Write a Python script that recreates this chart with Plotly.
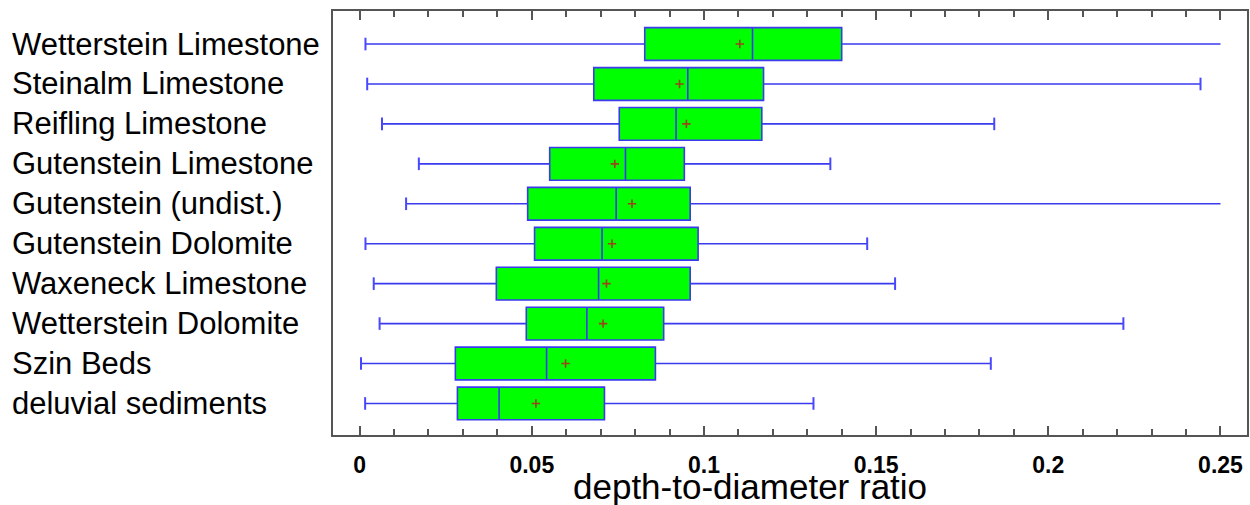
import plotly.graph_objects as go

categories = ["Wetterstein Limestone", "Steinalm Limestone", "Reifling Limestone",
              "Gutenstein Limestone", "Gutenstein (undist.)", "Gutenstein Dolomite",
              "Waxeneck Limestone", "Wetterstein Dolomite", "Szin Beds", "deluvial sediments"]
lower_whisker = [0.0017, 0.0022, 0.0065, 0.0172, 0.0135, 0.0017, 0.0041, 0.0058, 0.0004, 0.0016]
q1 = [0.0828, 0.0680, 0.0754, 0.0552, 0.0488, 0.0508, 0.0397, 0.0484, 0.0278, 0.0284]
median = [0.1141, 0.0953, 0.0919, 0.0772, 0.0745, 0.0704, 0.0694, 0.0660, 0.0543, 0.0405]
q3 = [0.1400, 0.1173, 0.1168, 0.0943, 0.0960, 0.0983, 0.0960, 0.0883, 0.0859, 0.0711]
upper_whisker = [0.2500, 0.2442, 0.1843, 0.1367, 0.2500, 0.1474, 0.1555, 0.2218, 0.1833, 0.1318]
mean = [0.1104, 0.0929, 0.0949, 0.0741, 0.0791, 0.0733, 0.0717, 0.0707, 0.0598, 0.0512]
x_ticks = [0, 0.05, 0.1, 0.15, 0.2, 0.25]
x_tick_labels = ["0", "0.05", "0.1", "0.15", "0.2", "0.25"]
x_title = "depth-to-diameter ratio"
x_max = 0.25

BLUE = "#3a3aee"
fig = go.Figure()
fig.add_trace(go.Box(
    y=categories, q1=q1, median=median, q3=q3,
    lowerfence=lower_whisker, upperfence=upper_whisker,
    orientation="h", boxpoints=False, width=0.82, whiskerwidth=0,
    fillcolor="#00ff00", line=dict(color=BLUE, width=1.6),
    showlegend=False, hoverinfo="skip"))

# whisker end caps (not drawn where the whisker runs to the axis limit)
cap_x, cap_y = [], []
for c, lo, hi in zip(categories, lower_whisker, upper_whisker):
    cap_x.append(lo); cap_y.append(c)
    if hi < x_max:
        cap_x.append(hi); cap_y.append(c)
fig.add_trace(go.Scatter(
    x=cap_x, y=cap_y, mode="markers",
    marker=dict(symbol="line-ns", size=9, line=dict(color="#4848ff", width=2)),
    showlegend=False, hoverinfo="skip"))

fig.add_trace(go.Scatter(
    x=mean, y=categories, mode="markers",
    marker=dict(symbol="cross-thin", size=6, line=dict(color="#9a4418", width=1.6)),
    showlegend=False, hoverinfo="skip"))

for c in categories:
    fig.add_annotation(x=-0.3534, xref="paper", y=c, yref="y", text=c,
                       showarrow=False, xanchor="left", yanchor="middle",
                       font=dict(family="Liberation Sans", size=31, color="black"))

fig.add_annotation(x=0.4562, xref="paper", y=-0.1215, yref="paper", text=x_title,
                   showarrow=False, xanchor="center", yanchor="middle",
                   font=dict(family="Liberation Sans", size=35, color="black"))

fig.update_layout(
    width=1250, height=505,
    margin=dict(l=333, r=3, t=11, b=70, autoexpand=False),
    paper_bgcolor="white", plot_bgcolor="white",
    font=dict(family="Liberation Sans", color="black"),
    xaxis=dict(range=[-0.00773, 0.2577], tickvals=x_ticks, ticktext=x_tick_labels,
               ticks="inside", ticklen=9, tickwidth=1.5, tickcolor="#555555",
               minor=dict(dtick=0.01, ticks="inside", ticklen=6, tickwidth=1.5, tickcolor="#555555"),
               showline=True, linecolor="#555555", linewidth=2, mirror="ticks",
               showgrid=False, zeroline=False, ticklabelstandoff=8, automargin=False,
               tickfont=dict(family="Liberation Sans", size=23, weight="bold", color="black")),
    yaxis=dict(categoryorder="array", categoryarray=categories,
               range=[9.79, -0.827], showticklabels=False, ticks="", automargin=False,
               showline=True, linecolor="#555555", linewidth=2, mirror=True,
               showgrid=False, zeroline=False),
)

fig.write_html("out.html", config={"displayModeBar": False},
               post_script="document.body.style.margin='0';document.body.style.overflow='hidden';")
